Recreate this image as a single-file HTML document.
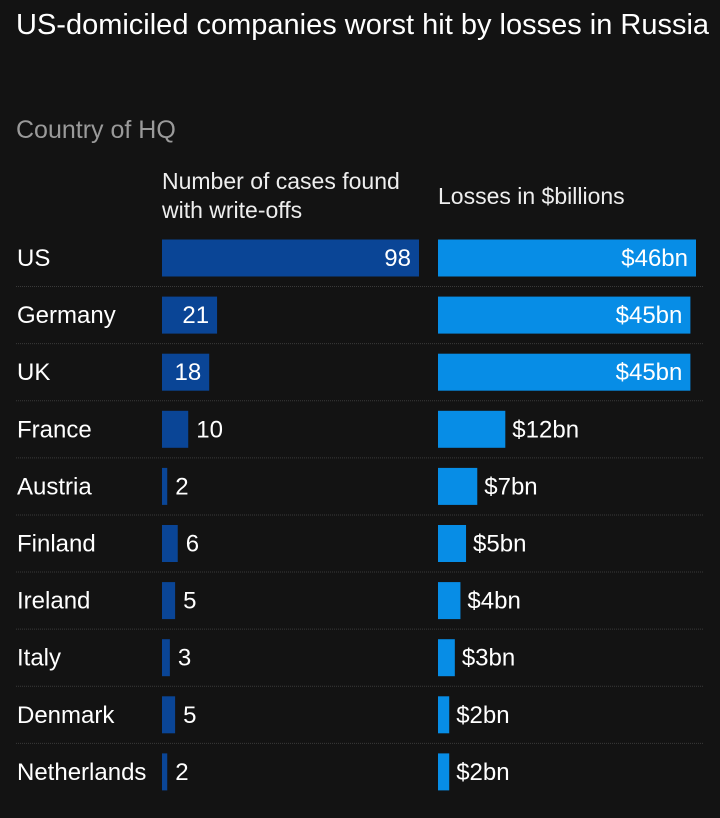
<!DOCTYPE html>
<html><head><meta charset="utf-8"><style>
body{margin:0;background:#131313;width:720px;height:818px;overflow:hidden;font-family:"Liberation Sans",sans-serif;color:#fff}
#title{position:absolute;left:16px;top:6px;font-size:29px;line-height:38px;margin:0;font-weight:normal;width:700px}
#sub{position:absolute;left:16px;top:116px;font-size:25px;color:#9a9a9a}
.n{font-family:"Liberation Sans Narrow","Liberation Sans",sans-serif}
.h{position:absolute;font-size:23px;line-height:29px;color:#eee}
svg{position:absolute;left:0;top:0}
</style></head><body>
<h1 id="title">US-domiciled companies worst hit by losses in Russia</h1>
<div id="sub">Country of HQ</div>
<div class="h n" style="left:162px;top:167px">Number of cases found<br>with write-offs</div>
<div class="h n" style="left:438px;top:182px">Losses in $billions</div>
<svg id="chart" width="720" height="818"></svg>
<script>
const countries=["US","Germany","UK","France","Austria","Finland","Ireland","Italy","Denmark","Netherlands"];
const cases=[98,21,18,10,2,6,5,3,5,2];
const losses=[46,45,45,12,7,5,4,3,2,2];
const NS="http://www.w3.org/2000/svg";
const svg=document.getElementById('chart');
const y0=258,pitch=57.1,bh=37;
const xc=v=>v*257/98, xl=v=>v*258/46;
function mk(t,a){const e=document.createElementNS(NS,t);for(const k in a)e.setAttribute(k,a[k]);svg.appendChild(e);return e;}
countries.forEach((c,i)=>{
  const cy=y0+i*pitch;
  if(i>0){const l=mk('line',{x1:16,x2:704,y1:cy-pitch/2,y2:cy-pitch/2,stroke:'#3a3a3a','stroke-dasharray':'1 1'});
  
  }
  const t=mk('text',{x:17,y:cy+8,fill:'#fff','font-size':24,'font-family':'"Liberation Sans Narrow","Liberation Sans",sans-serif'});t.textContent=c;
  
  
  const w1=xc(cases[i]);
  const b1=mk('rect',{x:162,y:cy-bh/2,width:w1,height:bh,fill:'#0a4596'});
  
  
  const in1=w1>40;
  const v1=mk('text',{x:in1?162+w1-8:162+w1+8,y:cy+8,fill:'#fff','font-size':24,'text-anchor':in1?'end':'start','font-family':'"Liberation Sans Narrow","Liberation Sans",sans-serif'});v1.textContent=cases[i];
  
  
  const w2=xl(losses[i]);
  const b2=mk('rect',{x:438,y:cy-bh/2,width:w2,height:bh,fill:'#078de6'});
  
  
  const in2=w2>100;
  const v2=mk('text',{x:in2?438+w2-8:438+w2+7,y:cy+8,fill:'#fff','font-size':24,'text-anchor':in2?'end':'start','font-family':'"Liberation Sans Narrow","Liberation Sans",sans-serif'});v2.textContent='$'+losses[i]+'bn';
  
  
});
</script>
</body></html>
